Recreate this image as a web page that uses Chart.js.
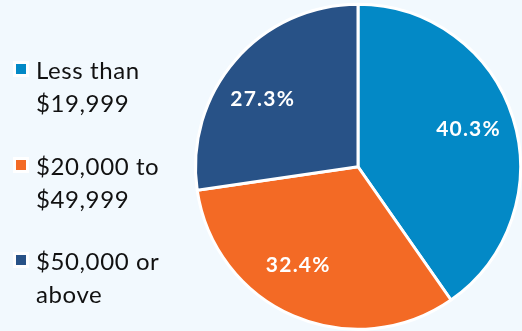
<!DOCTYPE html>
<html>
<head>
<meta charset="utf-8">
<script src="https://cdn.jsdelivr.net/npm/chart.js@4"></script>
<style>
  html, body { margin: 0; padding: 0; }
  body { width: 522px; height: 331px; background: #f2f9fe; position: relative; overflow: hidden; font-family: Lato, "Open Sans", sans-serif; }
  #wrap { position: absolute; left: 0; top: 0; width: 522px; height: 331px; }
  #legend { position: absolute; left: 0; top: 0; margin: 0; padding: 0; list-style: none; }
  #legend li { position: absolute; left: 36px; width: 150px; font-size: 24px; line-height: 33px; letter-spacing: 0.6px; color: #111; }
  #legend li span { position: absolute; left: -23px; top: 8px; width: 10px; height: 10px; border: 3px solid #fff; }
</style>
</head>
<body>
<div id="wrap"><canvas id="c"></canvas></div>
<ul id="legend"></ul>
<script>
// Household income distribution
const categories = ["Less than $19,999", "$20,000 to $49,999", "$50,000 or above"];
const shares = [40.3, 32.4, 27.3];
const sliceColors = ["#0389c6", "#f36a25", "#285287"];

// legend entries, stacked down the left side
const legendTops = [53, 149, 244];
const legend = document.getElementById("legend");
categories.forEach((name, i) => {
  const li = document.createElement("li");
  li.style.top = legendTops[i] + "px";
  const sw = document.createElement("span");
  sw.style.background = sliceColors[i];
  li.appendChild(sw);
  li.appendChild(document.createTextNode(name));
  legend.appendChild(li);
});

// white percentage labels inside each slice
const sliceLabels = {
  id: "sliceLabels",
  afterDatasetsDraw(chart, args, opts) {
    const ctx = chart.ctx;
    const meta = chart.getDatasetMeta(0);
    ctx.save();
    ctx.fillStyle = "#fff";
    ctx.font = "bold " + opts.size + "px Lato, sans-serif";
    ctx.letterSpacing = opts.spacing + "px";
    ctx.textAlign = "center";
    ctx.textBaseline = "alphabetic";
    meta.data.forEach((arc, i) => {
      const p = arc.getProps(["x", "y", "startAngle", "endAngle", "outerRadius"], true);
      const mid = (p.startAngle + p.endAngle) / 2;
      const r = p.outerRadius * opts.radius;
      const nudge = opts.nudge[i] || [0, 0];
      const x = p.x + Math.cos(mid) * r + nudge[0] + opts.spacing / 2;
      const y = p.y + Math.sin(mid) * r + nudge[1];
      const v = chart.data.datasets[0].data[i];
      ctx.fillText(v.toFixed(1) + "%", x, y + opts.size * 0.358);
    });
    ctx.restore();
  }
};

new Chart(document.getElementById("c"), {
  type: "pie",
  data: {
    labels: categories,
    datasets: [{
      data: shares,
      backgroundColor: sliceColors,
      borderColor: "#ffffff",
      borderWidth: 3
    }]
  },
  options: {
    responsive: true,
    maintainAspectRatio: false,
    animation: false,
    layout: { padding: { left: 194, right: 0, top: 2.5, bottom: 0 } },
    plugins: {
      legend: { display: false },
      tooltip: { enabled: false },
      sliceLabels: { size: 21, spacing: 1.2, radius: 0.72, nudge: [[-1.7, -3.6], [-13.9, -9.5], [-7.4, 8.6]] }
    }
  },
  plugins: [sliceLabels]
});
</script>
</body>
</html>
